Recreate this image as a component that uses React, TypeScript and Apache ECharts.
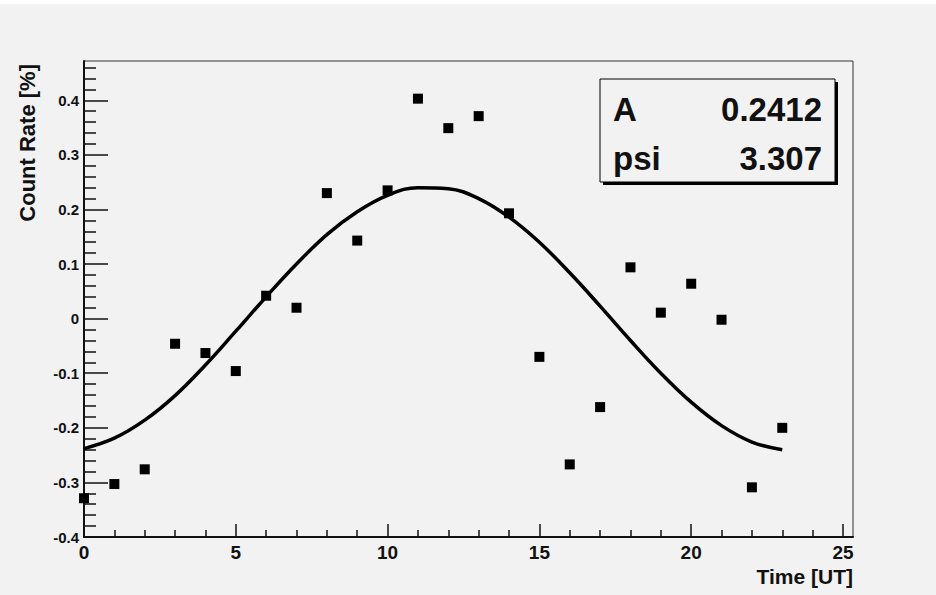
import { useEffect, useRef } from "react";
import * as echarts from "echarts";

const hours = [0, 1, 2, 3, 4, 5, 6, 7, 8, 9, 10, 11, 12, 13, 14, 15, 16, 17, 18, 19, 20, 21, 22, 23];
const countRate = [
  -0.329, -0.303, -0.276, -0.046, -0.063, -0.096, 0.042, 0.02, 0.23, 0.143, 0.235, 0.403,
  0.349, 0.371, 0.193, -0.07, -0.267, -0.162, 0.094, 0.011, 0.064, -0.002, -0.309, -0.2,
];
const fitRate = [
  -0.238, -0.219, -0.186, -0.141, -0.085, -0.023, 0.04, 0.1, 0.154, 0.196, 0.226, 0.24,
  0.238, 0.22, 0.186, 0.14, 0.084, 0.023, -0.04, -0.1, -0.153, -0.196, -0.226, -0.24,
];
const xMajorTicks = [0, 5, 10, 15, 20, 25];
const xMinorTicks = [1, 2, 3, 4, 6, 7, 8, 9, 11, 12, 13, 14, 16, 17, 18, 19, 21, 22, 23, 24];
const yMajorTicks = [-0.4, -0.3, -0.2, -0.1, 0, 0.1, 0.2, 0.3, 0.4];
const yMinorTicks = [
  -0.38, -0.36, -0.34, -0.32, -0.28, -0.26, -0.24, -0.22, -0.18, -0.16, -0.14, -0.12,
  -0.08, -0.06, -0.04, -0.02, 0.02, 0.04, 0.06, 0.08, 0.12, 0.14, 0.16, 0.18, 0.22, 0.24,
  0.26, 0.28, 0.32, 0.34, 0.36, 0.38, 0.42, 0.44, 0.46,
];
const statNames = ["A", "psi"];
const statValues = ["0.2412", "3.307"];
const xTitle = "Time [UT]";
const yTitle = "Count Rate [%]";

const FONT = "'Liberation Sans', Arial, Helvetica, sans-serif";
const INK = "#111";

export default function App() {
  const ref = useRef<HTMLDivElement>(null);
  useEffect(() => {
    if (!ref.current) return;
    const chart = echarts.init(ref.current, null, { renderer: "svg" });
    const xMin = 0, xMax = 25.33, yMin = -0.4, yMax = 0.472;
    const tickLine = { color: INK, width: 1.5 };
    chart.setOption({
      animation: false,
      backgroundColor: "#f2f2f2",
      grid: {
        left: 84, top: 61, right: 83, bottom: 58,
        show: true, borderColor: "#333", borderWidth: 1, backgroundColor: "transparent",
      },
      xAxis: [
        {
          type: "value", min: xMin, max: xMax, position: "bottom",
          axisLine: { show: true, onZero: false, lineStyle: { color: INK, width: 2 } },
          axisTick: { show: true, inside: true, length: 13, customValues: xMajorTicks, lineStyle: tickLine },
          axisLabel: {
            customValues: xMajorTicks, color: INK, fontSize: 19, fontWeight: "bold",
            fontFamily: FONT, margin: 6,
          },
          splitLine: { show: false },
        },
        {
          type: "value", min: xMin, max: xMax, position: "bottom",
          axisLine: { show: false, onZero: false },
          axisTick: { show: true, inside: true, length: 7, customValues: xMinorTicks, lineStyle: tickLine },
          axisLabel: { show: false },
          splitLine: { show: false },
        },
      ],
      yAxis: [
        {
          type: "value", min: yMin, max: yMax, position: "left",
          axisLine: { show: true, onZero: false, lineStyle: { color: INK, width: 2 } },
          axisTick: { show: true, inside: true, length: 24, customValues: yMajorTicks, lineStyle: tickLine },
          axisLabel: {
            customValues: yMajorTicks, color: INK, fontSize: 15, fontWeight: "bold",
            fontFamily: FONT, margin: 5,
          },
          splitLine: { show: false },
        },
        {
          type: "value", min: yMin, max: yMax, position: "left",
          axisLine: { show: false, onZero: false },
          axisTick: { show: true, inside: true, length: 12, customValues: yMinorTicks, lineStyle: tickLine },
          axisLabel: { show: false },
          splitLine: { show: false },
        },
      ],
      series: [
        {
          type: "line",
          xAxisIndex: 0, yAxisIndex: 0,
          data: hours.map((h, i) => [h, fitRate[i]]),
          smooth: 0.4,
          showSymbol: false,
          lineStyle: { color: "#000", width: 3.5 },
          z: 3,
        },
        {
          type: "scatter",
          xAxisIndex: 0, yAxisIndex: 0,
          data: hours.map((h, i) => [h, countRate[i]]),
          symbol: "rect",
          symbolSize: 10,
          itemStyle: { color: "#000", opacity: 1 },
          z: 4,
        },
      ],
      graphic: [
        { type: "rect", shape: { x: 0, y: 0, width: 936, height: 4 }, style: { fill: "#fff" }, silent: true },
        {
          type: "text", x: 853, y: 576,
          style: { text: xTitle, align: "right", verticalAlign: "middle", fontSize: 21, fontWeight: "bold", fontFamily: FONT, fill: INK },
        },
        {
          type: "text", x: 27, y: 64, rotation: Math.PI / 2,
          style: { text: yTitle, align: "right", verticalAlign: "middle", fontSize: 22, fontWeight: "bold", fontFamily: FONT, fill: INK },
        },
        { type: "rect", shape: { x: 603, y: 82, width: 235, height: 103 }, style: { fill: "#000" }, z: 10 },
        { type: "rect", shape: { x: 600, y: 79, width: 235, height: 103 }, style: { fill: "#f2f2f2", stroke: "#000", lineWidth: 1 }, z: 11 },
        ...statNames.map((n, i) => ({
          type: "text", x: 613, y: 109 + i * 49.5, z: 12,
          style: { text: n, align: "left", verticalAlign: "middle", fontSize: 33, fontWeight: "bold", fontFamily: FONT, fill: INK },
        })),
        ...statValues.map((v, i) => ({
          type: "text", x: 822, y: 109 + i * 49.5, z: 12,
          style: { text: v, align: "right", verticalAlign: "middle", fontSize: 33, fontWeight: "bold", fontFamily: FONT, fill: INK },
        })),
      ],
    });
    return () => chart.dispose();
  }, []);
  return (
    <div
      ref={ref}
      style={{ position: "fixed", left: 0, top: 0, width: 936, height: 595, background: "#f2f2f2" }}
    />
  );
}
